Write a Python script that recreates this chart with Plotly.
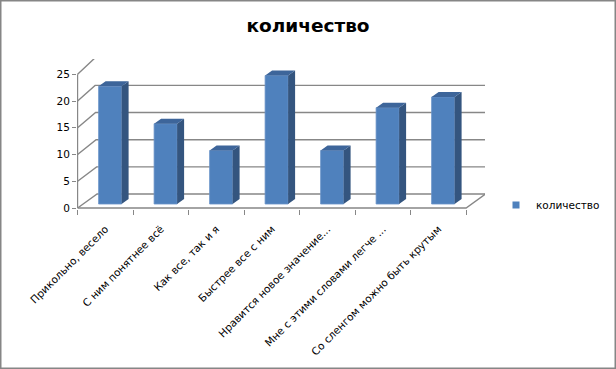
import plotly.graph_objects as go

categories = [
    "Прикольно, весело",
    "С ним понятнее всё",
    "Как все, так и я",
    "Быстрее все с ним",
    "Нравится новое значение...",
    "Мне с этими словами легче ...",
    "Со сленгом можно быть крутым",
]
values = [22, 15, 10, 24, 10, 18, 20]
y_ticks = [0, 5, 10, 15, 20, 25]
series_name = "количество"
title_text = "количество"

# ---- geometry (pixels -> axis units) ----
W, H = 616, 369
L, R, T, B = 77, 131, 59, 160
pw, ph = W - L - R, H - T - B
cat_px = 55.5                 # pixels per category on the front edge
sy = 5.35                     # pixels per value unit
x_lo = -0.5 - 0.6 / cat_px
x_hi = x_lo + pw / cat_px
y_lo = -1.0 / sy
y_hi = y_lo + ph / sy

n = len(categories)
front_l, front_r = -0.5, n - 0.5
wall_dx0, wall_dy0 = 19.5 / cat_px, 14.0 / sy   # depth at floor
wall_dx1, wall_dy1 = 17.0 / cat_px, 16.0 / sy   # depth at top

bar_w = 23.0 / cat_px
bar_shift = 4.75 / cat_px
bar_base = 4.0 / sy
side_dx, side_dy = 7.0 / cat_px, 5.0 / sy

grid_col = "#878787"
shapes = []
top_t = y_ticks[-1]
for t in y_ticks:
    f = t / top_t
    dx = wall_dx0 + (wall_dx1 - wall_dx0) * f
    dy = wall_dy0 + (wall_dy1 - wall_dy0) * f
    path = f"M {front_l},{t} L {front_l + dx},{t + dy} L {x_hi},{t + dy}"
    shapes.append(dict(type="path", path=path, xref="x", yref="y", layer="below",
                       line=dict(color=grid_col, width=1.4)))
# front floor edge + right floor edge
shapes.append(dict(type="path",
                   path=f"M {front_l},0 L {front_r},0 L {front_r + wall_dx0},{wall_dy0}",
                   xref="x", yref="y", layer="below", line=dict(color=grid_col, width=1.4)))
# vertical value axis line
shapes.append(dict(type="line", x0=front_l, x1=front_l, y0=0, y1=top_t,
                   xref="x", yref="y", layer="below", line=dict(color=grid_col, width=1.2)))
# chart area border
shapes.append(dict(type="rect", xref="paper", yref="paper",
                   x0=(0.75 - L) / pw, x1=(W - 0.75 - L) / pw,
                   y0=-(B - 0.75) / ph, y1=(H - B - 0.75) / ph,
                   line=dict(color="#868686", width=1.5), layer="above"))

fig = go.Figure()
fig.add_trace(go.Bar(
    x=list(range(n)), y=values, base=bar_base, width=bar_w,
    offset=-bar_w / 2 + bar_shift,
    marker=dict(color="#4F81BD", line=dict(color="#6a93c8", width=0.8)),
    showlegend=False, hoverinfo="skip"))

side_x, side_y, top_x, top_y = [], [], [], []
for i, v in enumerate(values):
    xl = i - bar_w / 2 + bar_shift
    xr = xl + bar_w
    yt = bar_base + v
    side_x += [xr, xr + side_dx, xr + side_dx, xr, xr, None]
    side_y += [bar_base, bar_base + side_dy, yt + side_dy, yt, bar_base, None]
    top_x += [xl, xl + side_dx, xr + side_dx, xr, xl, None]
    top_y += [yt, yt + side_dy, yt + side_dy, yt, yt, None]

fig.add_trace(go.Scatter(x=side_x, y=side_y, mode="lines", fill="toself",
                         fillcolor="#34557F", line=dict(width=0, color="#34557F"),
                         showlegend=False, hoverinfo="skip"))
fig.add_trace(go.Scatter(x=top_x, y=top_y, mode="lines", fill="toself",
                         fillcolor="#3D659A", line=dict(width=0, color="#3D659A"),
                         showlegend=False, hoverinfo="skip"))
# legend entry
fig.add_trace(go.Scatter(x=[None], y=[None], mode="markers", name=series_name,
                         marker=dict(symbol="square", size=7, color="#4F81BD")))

font_fam = "DejaVu Sans"
fig.update_layout(
    width=W, height=H,
    margin=dict(l=L, r=R, t=T, b=B, autoexpand=False),
    paper_bgcolor="white", plot_bgcolor="rgba(0,0,0,0)",
    font=dict(family=font_fam, size=10, color="#000000"),
    title=dict(text="<b>" + title_text + "</b>", x=0.5, xanchor="center",
               y=1 - 26 / H, yanchor="middle", font=dict(size=18.5, family=font_fam)),
    shapes=shapes,
    showlegend=True,
    legend=dict(x=(496 - L) / pw, y=(H - B - 205) / ph, xanchor="left", yanchor="middle",
                font=dict(size=10.5), bgcolor="rgba(0,0,0,0)"),
    xaxis=dict(range=[x_lo, x_hi], tickvals=list(range(n)), ticktext=categories,
               tickangle=-45, ticks="", showgrid=False, zeroline=False, showline=False,
               ticklabelstandoff=11,
               minor=dict(tickvals=[k - 0.5 for k in range(n + 1)], ticks="outside",
                          ticklen=5, tickcolor=grid_col, tickwidth=1, showgrid=False),
               tickfont=dict(size=10.5)),
    yaxis=dict(range=[y_lo, y_hi], tickvals=y_ticks, ticks="outside", ticklen=4,
               tickcolor=grid_col, showgrid=False, zeroline=False, showline=False,
               tickfont=dict(size=10.5)),
)

fig.write_html("out.html", config={"displayModeBar": False},
               post_script="document.body.style.margin='0';document.body.style.padding='0';")
